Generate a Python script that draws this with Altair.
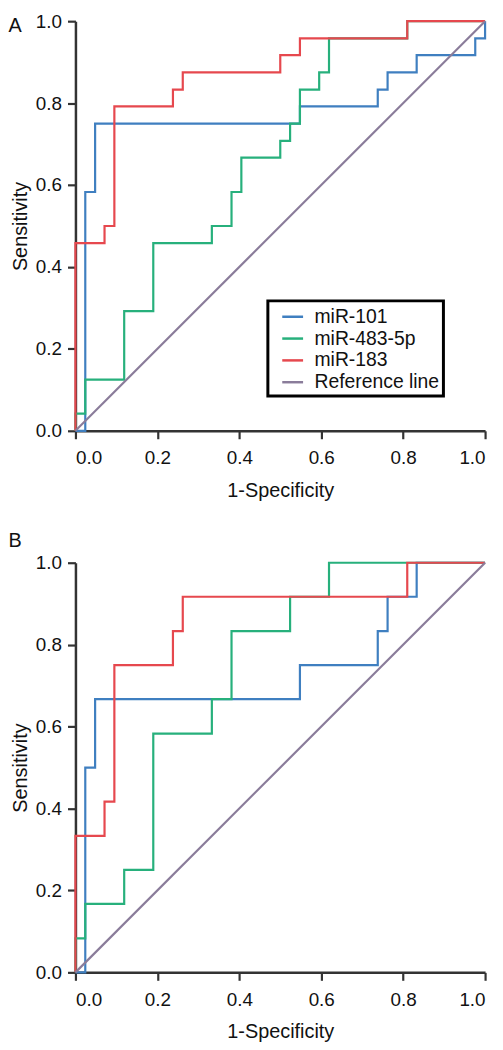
import altair as alt
import pandas as pd

series = ["miR-101", "miR-483-5p", "miR-183", "Reference line"]
colors = ["#3f7fc0", "#27b07c", "#e6484e", "#8a7c9a"]
ticks = [0.0, 0.2, 0.4, 0.6, 0.8, 1.0]

# Panel A ROC points (1-specificity, sensitivity)
a_101_fpr = [0.0, 0.024, 0.048, 0.548, 0.738, 0.762, 0.833, 0.976, 1.0]
a_101_tpr = [0.0, 0.583, 0.750, 0.792, 0.833, 0.875, 0.917, 0.958, 1.0]
a_483_fpr = [0.0, 0.0, 0.024, 0.119, 0.190, 0.333, 0.381, 0.405, 0.500, 0.524, 0.548, 0.595, 0.619, 0.810, 1.0]
a_483_tpr = [0.0, 0.042, 0.125, 0.292, 0.458, 0.500, 0.583, 0.667, 0.708, 0.750, 0.833, 0.875, 0.958, 1.0, 1.0]
a_183_fpr = [0.0, 0.0, 0.071, 0.095, 0.238, 0.262, 0.500, 0.548, 0.810, 1.0]
a_183_tpr = [0.0, 0.458, 0.500, 0.792, 0.833, 0.875, 0.917, 0.958, 1.0, 1.0]

# Panel B ROC points
b_101_fpr = [0.0, 0.024, 0.048, 0.548, 0.738, 0.762, 0.833, 1.0]
b_101_tpr = [0.0, 0.500, 0.667, 0.750, 0.833, 0.917, 1.0, 1.0]
b_483_fpr = [0.0, 0.0, 0.024, 0.119, 0.190, 0.333, 0.381, 0.524, 0.619, 1.0]
b_483_tpr = [0.0, 0.083, 0.167, 0.250, 0.583, 0.667, 0.833, 0.917, 1.0, 1.0]
b_183_fpr = [0.0, 0.0, 0.071, 0.095, 0.238, 0.262, 0.810, 1.0]
b_183_tpr = [0.0, 0.333, 0.417, 0.750, 0.833, 0.917, 1.0, 1.0]

ref_fpr = [0.0, 1.0]
ref_tpr = [0.0, 1.0]

FONT = "Liberation Sans"


def frame(curves):
    rows = []
    for name, xs, ys in curves:
        for i, (x, y) in enumerate(zip(xs, ys)):
            rows.append({"series": name, "idx": i, "fpr": x, "tpr": y})
    return pd.DataFrame(rows)


def panel(letter, curves, legend_x, legend_y, title_dy, title_offset):
    roc = frame(curves)
    ref = frame([("Reference line", ref_fpr, ref_tpr)])
    color = alt.Color(
        "series:N",
        scale=alt.Scale(domain=series, range=colors),
        sort=series,
        legend=alt.Legend(
            title=None,
            orient="none",
            legendX=legend_x,
            legendY=legend_y,
            symbolType="stroke",
            symbolSize=441,
            symbolStrokeWidth=2.5,
            symbolOffset=9,
            labelFontSize=19.5,
            labelFont=FONT,
            labelColor="#111",
            labelOffset=10,
            rowPadding=0,
            padding=4,
            fillColor="white",
            strokeColor="black",
        ),
    )
    x = alt.X(
        "fpr:Q",
        scale=alt.Scale(domain=[0, 1], nice=False, zero=False),
        axis=alt.Axis(
            title="1-Specificity", values=ticks, format=".1f",
            labelPadding=10, titlePadding=13,
        ),
    )
    y = alt.Y(
        "tpr:Q",
        scale=alt.Scale(domain=[0, 1], nice=False, zero=False),
        axis=alt.Axis(
            title="Sensitivity", values=ticks, format=".1f",
            labelPadding=6, titlePadding=5,
        ),
    )
    steps = alt.Chart(roc).mark_line(strokeWidth=2.2, interpolate="step-after").encode(
        x=x, y=y, color=color, order="idx:Q"
    )
    diag = alt.Chart(ref).mark_line(strokeWidth=2.2).encode(
        x=x, y=y, color=color, order="idx:Q"
    )
    return alt.layer(steps, diag).properties(
        width=413,
        height=413,
        title=alt.Title(
            letter, anchor="start", frame="bounds", fontSize=20,
            fontWeight="normal", font=FONT, color="#111",
            dx=-2, dy=title_dy, offset=title_offset,
        ),
    )


panel_a = panel(
    "A",
    [("miR-101", a_101_fpr, a_101_tpr),
     ("miR-483-5p", a_483_fpr, a_483_tpr),
     ("miR-183", a_183_fpr, a_183_tpr)],
    194, 282, 24, 0,
)
panel_b = panel(
    "B",
    [("miR-101", b_101_fpr, b_101_tpr),
     ("miR-483-5p", b_483_fpr, b_483_tpr),
     ("miR-183", b_183_fpr, b_183_tpr)],
    177, 284, 0, 3,
)

chart = alt.vconcat(panel_a, panel_b, spacing=31).properties(
    padding={"left": 0, "top": 0, "right": 5, "bottom": 5}
).configure_view(stroke=None).configure_legend(
    strokeWidth=3,
).configure_axis(
    grid=False,
    domainColor="#333",
    domainWidth=2.5,
    tickColor="#333",
    tickWidth=2.2,
    tickSize=8,
    labelFontSize=19,
    labelFont=FONT,
    labelColor="#111",
    titleFontSize=20,
    titleFont=FONT,
    titleFontWeight="normal",
    titleColor="#111",
)

chart.save("out.html", embed_options={"renderer": "svg", "actions": False})
